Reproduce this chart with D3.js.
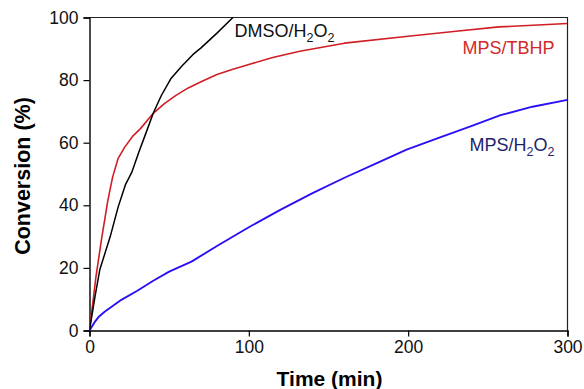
<!DOCTYPE html>
<html>
<head>
<meta charset="utf-8">
<script src="https://cdn.jsdelivr.net/npm/d3@7"></script>
<style>
  body { margin: 0; background: #fff; }
  svg { font-family: "Liberation Sans", Arial, sans-serif; }
</style>
</head>
<body>
<div id="chart"></div>
<script>
// data
var dmsoTime = [0, 3.5, 6.5, 13, 18, 22.5, 26.5, 31, 35, 40, 45, 51, 58, 65, 70, 80, 90];
var dmsoConv = [0, 11, 19.5, 30, 39.5, 46.5, 50.5, 57, 62.5, 69.4, 75, 80.4, 84.5, 88.2, 90.3, 95, 100];

var tbhpTime = [0, 4, 7.5, 11.5, 14.5, 18, 22, 27, 32, 40, 47, 54.5, 62, 70, 80, 90, 100, 115, 132, 160, 200, 230, 257, 300];
var tbhpConv = [0, 17, 29, 41.5, 49, 55, 58.5, 62, 64.5, 69.4, 72.5, 75.2, 77.5, 79.5, 81.8, 83.5, 85, 87.2, 89.2, 91.8, 94, 95.6, 97, 98.1];

var h2o2Time = [0, 3, 6, 9.5, 20, 30, 40, 50, 64, 80, 100, 120, 140, 160, 180, 199, 220, 240, 258, 278, 300];
var h2o2Conv = [0, 2.5, 4.5, 6, 9.8, 12.7, 15.9, 18.8, 22, 27, 33, 38.6, 43.9, 48.8, 53.4, 57.8, 61.7, 65.4, 68.8, 71.5, 73.7];

var xTicks = [0, 100, 200, 300];
var yTicks = [0, 20, 40, 60, 80, 100];

var m = {top: 17.5, right: 16.5, bottom: 58.5, left: 89.5}
, w = 584 - m.left - m.right
, h = 389 - m.top - m.bottom;

var svg = d3.select("#chart").append("svg")
    .attr("width", 584)
    .attr("height", 389);

var g = svg.append("g")
    .attr("transform", "translate(" + m.left + "," + m.top + ")");

var x = d3.scaleLinear().domain([0, 300]).range([0, w]);
var y = d3.scaleLinear().domain([0, 100]).range([h, 0]);

g.append("clipPath").attr("id", "clip")
  .append("rect").attr("x", 0).attr("y", -1).attr("width", w).attr("height", h + 1);

// frame (top + right, no ticks)
g.append("path")
    .attr("d", "M0,0H" + w + "V" + h)
    .attr("fill", "none")
    .attr("stroke", "#222")
    .attr("stroke-width", 1.2);

var xAxis = g.append("g")
    .attr("transform", "translate(0," + h + ")")
    .call(d3.axisBottom(x).tickValues(xTicks).tickSize(6).tickPadding(4));

var yAxis = g.append("g")
    .call(d3.axisLeft(y).tickValues(yTicks).tickSize(6).tickPadding(5));

[xAxis, yAxis].forEach(function(a) {
  a.select(".domain").attr("stroke", "#000").attr("stroke-width", 1.4);
  a.selectAll(".tick line").attr("stroke", "#000").attr("stroke-width", 1.2);
  a.selectAll(".tick text")
    .attr("font-family", "Liberation Sans, Arial, sans-serif")
    .attr("font-size", 17.5)
    .attr("fill", "#111");
});

var line = d3.line()
    .x(function(d) { return x(d[0]); })
    .y(function(d) { return y(d[1]); });

var series = [
  {t: tbhpTime, v: tbhpConv, color: "#d01e24", width: 1.6},
  {t: h2o2Time, v: h2o2Conv, color: "#2a10f5", width: 1.9},
  {t: dmsoTime, v: dmsoConv, color: "#000000", width: 1.5}
];

series.forEach(function(s) {
  g.append("path")
    .datum(d3.zip(s.t, s.v))
    .attr("clip-path", "url(#clip)")
    .attr("fill", "none")
    .attr("stroke", s.color)
    .attr("stroke-width", s.width)
    .attr("stroke-linejoin", "round")
    .attr("d", line);
});

// curve labels
var addLabel = function(px, py, anchor, color, parts) {
  var t = svg.append("text")
      .attr("x", px)
      .attr("y", py)
      .attr("text-anchor", anchor)
      .attr("font-size", 18)
      .attr("fill", color);
  parts.forEach(function(p) {
    var sp = t.append("tspan").text(p[0]);
    if (p[1] == "sub") sp.attr("font-size", 12.5).attr("dy", 5);
    else if (p[1] == "up") sp.attr("dy", -5);
  });
};

addLabel(234.5, 37, "start", "#111", [["DMSO/H"], ["2", "sub"], ["O", "up"], ["2", "sub"]]);
addLabel(554.5, 53.5, "end", "#d02a2a", [["MPS/TBHP"]]);
addLabel(554.5, 150.5, "end", "#1f1f6e", [["MPS/H"], ["2", "sub"], ["O", "up"], ["2", "sub"]]);

// axis titles
svg.append("text")
    .attr("x", m.left + w / 2 + 1)
    .attr("y", 386)
    .attr("text-anchor", "middle")
    .attr("font-weight", "bold")
    .attr("font-size", 21)
    .text("Time (min)");

svg.append("text")
    .attr("transform", "translate(30,176) rotate(-90)")
    .attr("text-anchor", "middle")
    .attr("font-weight", "bold")
    .attr("font-size", 21.5)
    .text("Conversion (%)");
</script>
</body>
</html>
